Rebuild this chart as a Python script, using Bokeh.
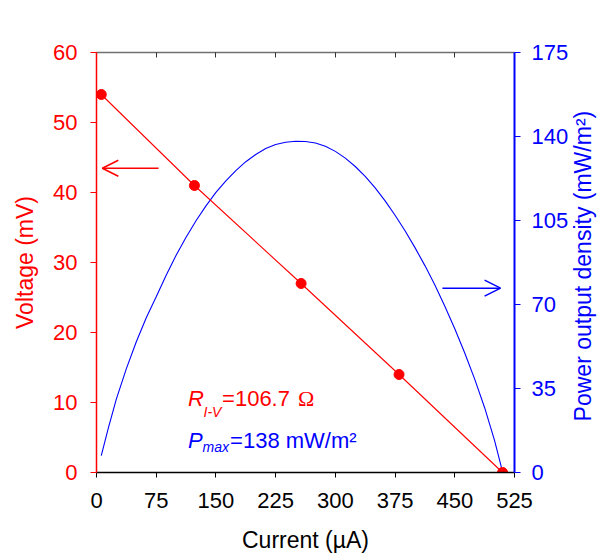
import math
from bokeh.plotting import figure
from bokeh.models import Range1d, LinearAxis, FixedTicker, Label, Arrow, OpenHead
from bokeh.embed import file_html
from bokeh.resources import INLINE

# I-V data (current in µA, voltage in mV)
current_iv = [6, 123, 257, 380, 510]
voltage_iv = [54, 41, 27, 14, 0]

# Power density curve (current in µA, power in mW/m2)
current_p = [6, 15, 25, 37.5, 50, 62.5, 75, 87.5, 100, 112.5, 125, 137.5, 150,
             162.5, 175, 187.5, 200, 212.5, 225, 237.5, 250, 262.5, 275, 287.5,
             300, 312.5, 325, 337.5, 350, 362.5, 375, 387.5, 400, 412.5, 425,
             437.5, 450, 462.5, 475, 487.5, 500, 509]
power_p = [7, 18.7, 30.7, 43.3, 54.5, 64.5, 73.2, 82.2, 90.5, 98, 104.9, 111.1,
           116.7, 121.5, 125.8, 129.5, 132.5, 135, 136.7, 137.6, 138, 137.9,
           137.3, 135.9, 133.8, 131, 127.5, 123.4, 118.6, 113.2, 107.2, 100.7,
           93.7, 86.2, 78.1, 69.3, 59.9, 49.8, 38.9, 27, 13.3, 1.6]

x_ticks = [0, 75, 150, 225, 300, 375, 450, 525]
v_ticks = [0, 10, 20, 30, 40, 50, 60]
p_ticks = [0, 35, 70, 105, 140, 175]

# arrows (data units)
left_arrow = dict(x_start=78, y_start=43.47, x_end=7.3, y_end=43.47)
right_arrow = dict(x_start=434.5, y_start=76.8, x_end=507.5, y_end=76.8)

FONT = "Liberation Sans"
RED = "#ff0000"
BLUE = "#0000ff"
RIGHT_TITLE = "Power output density (mW/m²)"

p = figure(width=612, height=556, output_backend="svg", toolbar_location=None,
           x_range=Range1d(0, 525), y_range=Range1d(0, 60),
           min_border_left=96, min_border_right=96, min_border_top=52, min_border_bottom=84)
p.extra_y_ranges = {"power": Range1d(0, 175)}
p.xgrid.visible = False
p.ygrid.visible = False
p.outline_line_color = None
p.background_fill_color = "white"
p.border_fill_color = "white"

# bottom axis
xa = p.xaxis[0]
xa.ticker = FixedTicker(ticks=x_ticks)
xa.axis_label = "Current (µA)"
xa.axis_line_color = "black"
xa.axis_line_width = 1.5
xa.major_tick_line_color = "black"
xa.major_tick_in = 0
xa.major_tick_out = 5
xa.minor_tick_line_color = None
xa.major_label_text_font = FONT
xa.major_label_text_font_size = "22px"
xa.major_label_text_color = "black"
xa.major_label_standoff = 15
xa.axis_label_text_font = FONT
xa.axis_label_text_font_size = "23px"
xa.axis_label_text_font_style = "normal"
xa.axis_label_text_color = "black"
xa.axis_label_standoff = 16

# left axis
ya = p.yaxis[0]
ya.ticker = FixedTicker(ticks=v_ticks)
ya.axis_label = "Voltage (mV)"
ya.axis_line_color = RED
ya.axis_line_width = 1.5
ya.major_tick_line_color = RED
ya.major_tick_in = 0
ya.major_tick_out = 6
ya.minor_tick_line_color = None
ya.major_label_text_font = FONT
ya.major_label_text_font_size = "22px"
ya.major_label_text_color = RED
ya.major_label_standoff = 13
ya.axis_label_text_font = FONT
ya.axis_label_text_font_size = "23px"
ya.axis_label_text_font_style = "normal"
ya.axis_label_text_color = RED
ya.axis_label_standoff = 12

# right axis
ra = LinearAxis(y_range_name="power", ticker=FixedTicker(ticks=p_ticks))
ra.axis_line_color = BLUE
ra.axis_line_width = 2
ra.major_tick_line_color = BLUE
ra.major_tick_in = 0
ra.major_tick_out = 6
ra.minor_tick_line_color = None
ra.major_label_text_font = FONT
ra.major_label_text_font_size = "22px"
ra.major_label_text_color = BLUE
ra.major_label_standoff = 11
p.add_layout(ra, "right")

# right axis title, reading bottom-to-top, starting a little above the bottom
ra.axis_label_orientation = math.pi / 2
ra.axis_label = "\u00a0" * 8 + RIGHT_TITLE
ra.axis_label_text_font = FONT
ra.axis_label_text_font_size = "23px"
ra.axis_label_text_font_style = "normal"
ra.axis_label_text_color = BLUE
ra.axis_label_standoff = 12
try:
    ra.axis_label_align = "start"
except Exception:
    pass

# top axis (frame line with inward ticks, no labels)
ta = LinearAxis(ticker=FixedTicker(ticks=x_ticks))
ta.axis_line_color = "#707070"
ta.axis_line_width = 1.5
ta.major_tick_line_color = "#333333"
ta.major_tick_in = 5
ta.major_tick_out = 0
ta.minor_tick_line_color = None
ta.major_label_text_color = None
ta.major_label_standoff = 0
p.add_layout(ta, "above")

# data
p.line(current_p, power_p, y_range_name="power", line_color=BLUE, line_width=1.1)
p.line(current_iv, voltage_iv, line_color=RED, line_width=1.1)
p.scatter(current_iv, voltage_iv, marker="circle", size=10, fill_color=RED, line_color=RED)

# arrows
p.add_layout(Arrow(end=OpenHead(size=16, line_color=RED, line_width=1.5),
                   line_color=RED, line_width=1.5, **left_arrow))
p.add_layout(Arrow(end=OpenHead(size=16, line_color=BLUE, line_width=1.5),
                   line_color=BLUE, line_width=1.5, y_range_name="power", **right_arrow))

# annotations
ann_x = 115
def lab(text, x_off, y, color, size, style, font=FONT):
    p.add_layout(Label(x=ann_x, y=y, x_offset=x_off, text=text, text_color=color,
                       text_font=font, text_font_size=size, text_font_style=style,
                       text_baseline="alphabetic", text_align="left"))

lab("R", 0, 10.53, RED, "22px", "italic")
lab("I-V", 15.5, 8.71, RED, "14px", "italic")
lab("=106.7", 34, 10.53, RED, "22px", "normal")
lab("Ω", 110, 10.53, RED, "22px", "normal", font="Liberation Serif")
lab("P", 0, 4.57, BLUE, "22px", "italic")
lab("max", 14.5, 3.71, BLUE, "14px", "italic")
lab("=138 mW/m²", 42, 4.57, BLUE, "22px", "normal")

open("out.html", "w").write(file_html(p, INLINE))
